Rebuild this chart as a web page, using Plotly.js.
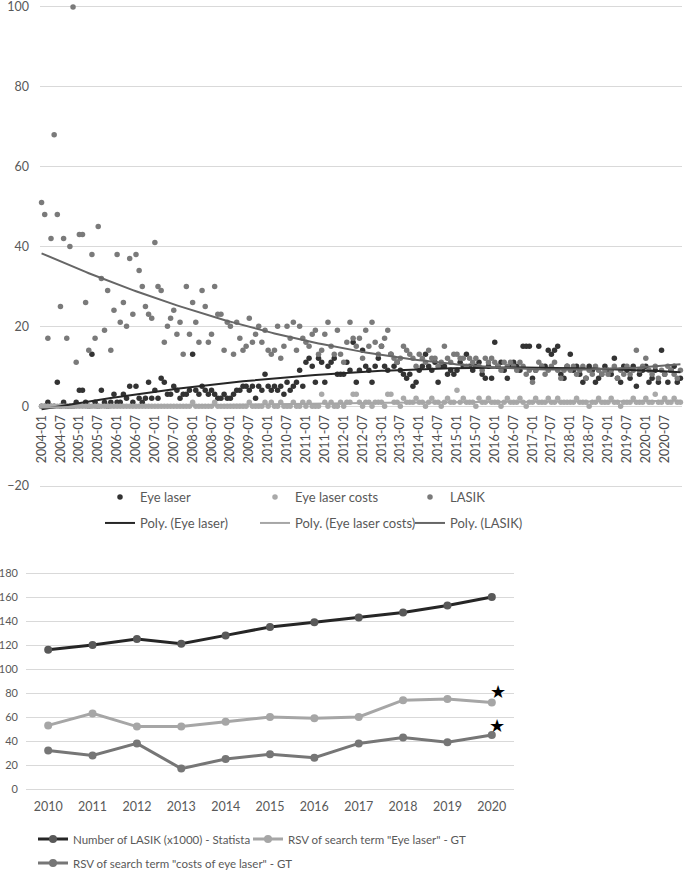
<!DOCTYPE html>
<html><head><meta charset="utf-8">
<script src="https://cdn.plot.ly/plotly-3.0.1.min.js"></script>
<style>html,body{margin:0;padding:0;background:#fff}#chart{width:685px;height:873px}</style>
</head><body><div id="chart"></div><script>
// ---------- Top chart data (monthly, 2004-01 .. 2020-12) ----------
const years = [2004,2005,2006,2007,2008,2009,2010,2011,2012,2013,2014,2015,2016,2017,2018,2019,2020];
const monthCodes = ['01','02','03','04','05','06','07','08','09','10','11','12'];

const eyeLaser = [
  0,0,1,0,0,6,0,1,0,0,0,1,
  4,4,1,0,13,1,0,4,1,0,1,3,
  1,1,3,2,5,1,5,2,1,2,6,2,
  4,2,7,6,3,3,5,4,2,3,3,4,
  13,4,3,5,4,3,4,3,2,2,3,2,
  2,3,4,4,5,5,4,5,2,5,4,8,
  5,4,5,4,5,3,6,4,5,6,9,5,
  11,12,10,6,12,11,6,10,11,12,8,8,
  8,11,9,16,6,9,14,10,9,6,10,12,
  15,10,9,13,10,11,9,8,7,8,5,6,
  9,10,13,10,9,11,6,10,10,8,9,8,
  9,11,10,13,10,9,10,11,8,7,10,7,
  16,10,11,9,7,10,11,10,9,15,15,15,
  7,9,15,10,10,14,13,14,15,8,7,10,
  13,9,10,8,6,7,10,9,6,7,8,10,
  9,8,12,7,6,10,9,7,10,5,8,9,
  10,6,7,9,6,14,8,6,9,10,6,7
];
const eyeLaserCosts = [
  0,0,0,0,0,0,0,0,0,0,0,0,
  0,0,0,0,0,0,0,0,0,0,0,0,
  0,0,0,0,0,0,0,0,0,0,0,0,
  0,0,0,0,0,0,0,0,0,0,0,0,
  1,0,0,0,0,0,0,1,0,0,0,0,
  0,0,0,0,0,0,1,0,0,0,0,1,
  0,1,0,0,1,0,0,0,1,0,0,1,
  0,1,0,0,0,3,1,0,1,0,0,1,
  0,1,1,3,3,1,0,1,1,0,1,1,
  1,0,3,3,1,1,0,2,1,1,1,2,
  1,1,0,1,2,1,1,0,1,2,1,1,
  4,1,2,1,1,1,0,2,1,1,2,1,
  1,1,0,1,2,1,1,1,2,1,0,1,
  1,2,1,1,1,2,1,1,2,1,1,1,
  1,1,2,1,1,1,0,1,1,2,1,1,
  1,2,1,1,0,1,1,1,2,1,1,1,
  2,1,1,3,1,1,2,1,1,2,1,1
];
const lasik = [
  51,48,17,42,68,48,25,42,17,40,100,11,
  43,43,26,14,38,17,45,32,19,29,14,24,
  38,21,26,20,37,23,38,34,30,25,23,22,
  41,30,29,16,20,22,24,18,21,13,30,18,
  26,21,16,29,25,16,18,30,23,23,14,21,
  20,13,21,17,14,15,22,16,18,20,16,19,
  14,13,14,20,12,15,20,17,21,14,20,17,
  16,15,18,19,13,14,18,21,15,13,19,13,
  11,16,21,17,15,17,12,19,15,21,16,13,
  15,17,19,13,12,11,12,15,14,13,12,10,
  13,12,11,14,12,12,10,11,15,12,11,13,
  13,12,12,10,12,11,12,10,9,12,11,12,
  11,10,9,11,10,11,10,9,11,10,8,9,
  6,9,11,10,8,9,10,11,9,7,9,10,
  9,10,8,9,10,7,9,8,10,9,8,9,
  8,9,10,7,9,8,10,8,9,14,9,10,
  12,9,8,10,7,9,8,10,9,8,7,9
];
const topNames = ['Eye laser','Eye laser costs','LASIK'];
const trendNames = ['Poly. (Eye laser)','Poly. (Eye laser costs)','Poly. (LASIK)'];
const topYTicks = [-20,0,20,40,60,80,100];

// ---------- Bottom chart data (yearly) ----------
const bYears = ['2010','2011','2012','2013','2014','2015','2016','2017','2018','2019','2020'];
const lasikNumber = [116,120,125,121,128,135,139,143,147,153,160];
const rsvEyeLaser = [53,63,52,52,56,60,59,60,74,75,72];
const rsvCosts = [32,28,38,17,25,29,26,38,43,39,45];
const bottomNames = ['Number of LASIK (x1000) - Statista','RSV of search term "Eye laser" - GT','RSV of search term "costs of eye laser" - GT'];
const starX = [10.14, 10.11];
const starY = [82, 53];
const bottomYTicks = [0,20,40,60,80,100,120,140,160,180];

// ---------- helpers ----------
const months = [];
years.forEach(y => monthCodes.forEach(m => months.push(y + '-' + m)));
const tickMonths = months.filter((m, i) => i % 6 === 0);

function polyfit2(vals) {
  const n = vals.length;
  let S = [0,0,0,0,0], T = [0,0,0];
  for (let i = 0; i < n; i++) {
    const x = i + 1;
    let p = 1;
    for (let k = 0; k < 5; k++) { S[k] += p; p *= x; }
    p = 1;
    for (let k = 0; k < 3; k++) { T[k] += p * vals[i]; p *= x; }
  }
  const A = [[S[0],S[1],S[2],T[0]],[S[1],S[2],S[3],T[1]],[S[2],S[3],S[4],T[2]]];
  for (let c = 0; c < 3; c++) {
    for (let r = c + 1; r < 3; r++) {
      const f = A[r][c] / A[c][c];
      for (let k = c; k < 4; k++) A[r][k] -= f * A[c][k];
    }
  }
  const coef = [0,0,0];
  for (let r = 2; r >= 0; r--) {
    let s = A[r][3];
    for (let k = r + 1; k < 3; k++) s -= A[r][k] * coef[k];
    coef[r] = s / A[r][r];
  }
  return vals.map((v, i) => { const x = i + 1; return coef[0] + coef[1]*x + coef[2]*x*x; });
}

const FONT = 'Lato, "Open Sans", sans-serif';
const TXT = '#595959';
const GRID = '#d9d9d9';
const H = 873, W = 685;

const cDark = '#333333', cLight = '#a9a9a9', cMid = '#7a7a7a';
const topSeries = [eyeLaser, eyeLaserCosts, lasik];
const topColors = [cDark, cLight, cMid];
const trendColors = ['#262626', '#a6a6a6', '#666666'];

const traces = [];
topSeries.forEach((s, k) => {
  traces.push({
    type: 'scatter', mode: 'markers', x: months, y: s, name: topNames[k],
    marker: {color: topColors[k], size: 5.5}, cliponaxis: false,
    xaxis: 'x', yaxis: 'y', legend: 'legend', showlegend: true
  });
});
topSeries.forEach((s, k) => {
  traces.push({
    type: 'scatter', mode: 'lines', x: months, y: polyfit2(s), name: trendNames[k],
    line: {color: trendColors[k], width: 2},
    xaxis: 'x', yaxis: 'y', legend: 'legend2', showlegend: true
  });
});
const bottomSeries = [lasikNumber, rsvEyeLaser, rsvCosts];
const bLine = ['#262626', '#a6a6a6', '#767676'];
const bMarker = ['#595959', '#a6a6a6', '#767676'];
const bLegends = ['legend3', 'legend5', 'legend4'];
bottomSeries.forEach((s, k) => {
  traces.push({
    type: 'scatter', mode: 'lines+markers', x: bYears, y: s, name: bottomNames[k],
    line: {color: bLine[k], width: 3},
    marker: {color: bMarker[k], size: 8}, cliponaxis: false,
    xaxis: 'x2', yaxis: 'y2', legend: bLegends[k], showlegend: true
  });
});

const py = v => 1 - v / H;
const px = v => v / W;
const legFont = {family: FONT, size: 13, color: TXT};
const legFontB = {family: FONT, size: 11.5, color: TXT};

const layout = {
  width: W, height: H,
  margin: {l: 0, r: 0, t: 0, b: 0, autoexpand: false},
  paper_bgcolor: '#fff', plot_bgcolor: '#fff',
  font: {family: FONT, color: TXT, size: 12},
  xaxis: {
    type: 'category', domain: [px(40), px(682)], anchor: 'free', position: py(405.5),
    categoryorder: 'array', categoryarray: months, range: [-0.5, months.length - 0.5], autorange: false,
    tickvals: tickMonths, ticktext: tickMonths, tickangle: -90, ticklabelstandoff: 6,
    showgrid: false, zeroline: false, showline: false, ticks: '',
    tickfont: {family: FONT, size: 12.5, color: '#4d4d4d'}, fixedrange: true
  },
  yaxis: {
    domain: [py(490), py(3)], range: [-21, 101], autorange: false, anchor: 'x',
    tickvals: topYTicks, showgrid: true, gridcolor: GRID, gridwidth: 1,
    zeroline: true, zerolinecolor: GRID, zerolinewidth: 1, ticks: '', ticklabelstandoff: 10,
    ticklabeloverflow: 'allow',
    tickfont: {family: FONT, size: 12.5, color: TXT}, showline: false
  },
  xaxis2: {
    type: 'category', domain: [px(26), px(514)], anchor: 'y2',
    range: [-0.5, bYears.length - 0.5], autorange: false,
    showgrid: false, zeroline: false, showline: false, ticks: '',
    tickfont: {family: FONT, size: 12.5, color: TXT}, ticklabelstandoff: 8
  },
  yaxis2: {
    domain: [py(789.6), py(571.8)], range: [-0.5, 181], autorange: false, anchor: 'x2',
    tickvals: bottomYTicks, showgrid: true, gridcolor: GRID, gridwidth: 1,
    zeroline: true, zerolinecolor: GRID, ticks: '', ticklabelstandoff: 7,
    ticklabeloverflow: 'allow',
    tickfont: {family: FONT, size: 11, color: TXT}, showline: false
  },
  legend: {
    orientation: 'h', x: px(100), xanchor: 'left', y: py(497), yanchor: 'middle',
    entrywidth: 110, entrywidthmode: 'pixels', font: legFont,
    bgcolor: 'rgba(0,0,0,0)', itemclick: false
  },
  legend2: {
    orientation: 'h', x: px(100), xanchor: 'left', y: py(523), yanchor: 'middle',
    entrywidth: 110, entrywidthmode: 'pixels', font: legFont,
    bgcolor: 'rgba(0,0,0,0)', itemclick: false
  },
  legend3: {
    orientation: 'h', x: px(33), xanchor: 'left', y: py(839), yanchor: 'middle',
    font: legFontB, bgcolor: 'rgba(0,0,0,0)', itemclick: false
  },
  legend5: {
    orientation: 'h', x: px(248), xanchor: 'left', y: py(839), yanchor: 'middle',
    font: legFontB, bgcolor: 'rgba(0,0,0,0)', itemclick: false
  },
  legend4: {
    orientation: 'h', x: px(33), xanchor: 'left', y: py(863), yanchor: 'middle',
    font: legFontB, bgcolor: 'rgba(0,0,0,0)', itemclick: false
  },
  annotations: starX.map((sx, i) => ({
    xref: 'x2', yref: 'y2', x: sx, y: starY[i], text: '★', showarrow: false,
    font: {size: 18, color: '#000'}
  })),
  showlegend: true
};

Plotly.newPlot('chart', traces, layout, {displayModeBar: false, staticPlot: true});
</script></body></html>
